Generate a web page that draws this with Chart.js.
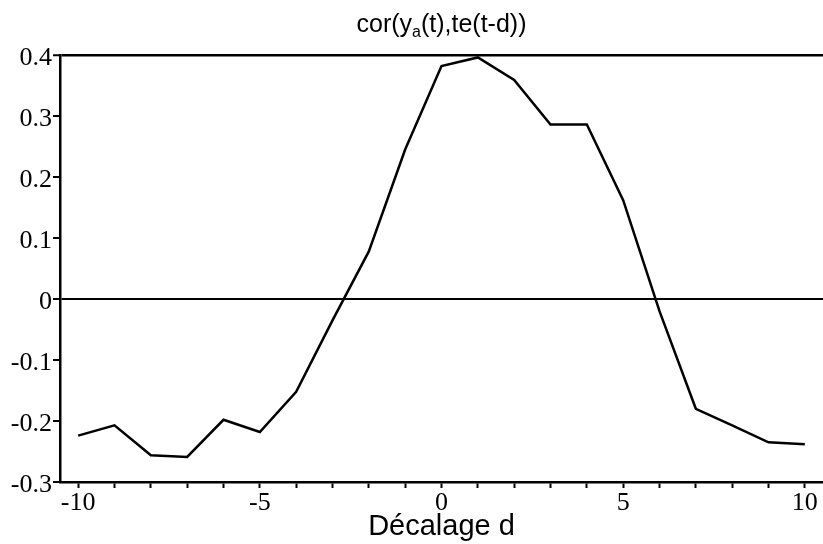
<!DOCTYPE html>
<html>
<head>
<meta charset="utf-8">
<script src="https://cdn.jsdelivr.net/npm/chart.js@4"></script>
<style>
    body { margin: 0; background: #fff; }
    #wrap { width: 823px; height: 544px; }
</style>
</head>
<body>
<div id="wrap"><canvas id="corr_chart" width="823" height="544"></canvas></div>
<script>
// lag d and correlation values
const lags = [-10, -9, -8, -7, -6, -5, -4, -3, -2, -1, 0, 1, 2, 3, 4, 5, 6, 7, 8, 9, 10];
const corrValues = [-0.224, -0.207, -0.256, -0.259, -0.198, -0.218, -0.152, -0.035, 0.078, 0.245,
    0.382, 0.396, 0.359, 0.286, 0.286, 0.162, -0.02, -0.18, -0.207, -0.235, -0.238];
const xLabelTicks = [-10, -5, 0, 5, 10];
const titleParts = ["cor(y", "a", "(t),te(t-d))"];
const xTitle = "Décalage d";

const points = lags.map((d, i) => ({ x: d, y: corrValues[i] }));

// title with a subscript, drawn over the chart area centre
const titlePlugin = {
    id: 'subTitle',
    afterDraw(chart) {
        const c = chart.ctx;
        const area = chart.chartArea;
        const mainFont = '25px "Liberation Sans", Arial, sans-serif';
        const subFont = '16px "Liberation Sans", Arial, sans-serif';
        c.save();
        c.fillStyle = '#000';
        c.textBaseline = 'alphabetic';
        c.textAlign = 'left';
        c.font = mainFont;
        const w0 = c.measureText(titleParts[0]).width;
        const w2 = c.measureText(titleParts[2]).width;
        c.font = subFont;
        const w1 = c.measureText(titleParts[1]).width;
        let x = (area.left + area.right) / 2 - (w0 + w1 + w2) / 2;
        const base = 32;
        c.font = mainFont;
        c.fillText(titleParts[0], x, base);
        x += w0;
        c.font = subFont;
        c.fillText(titleParts[1], x, base + 5);
        x += w1;
        c.font = mainFont;
        c.fillText(titleParts[2], x, base);
        c.restore();
    }
};

const ctx = document.getElementById("corr_chart").getContext("2d");
new Chart(ctx, {
    type: 'line',
    data: {
        datasets: [{
            data: points,
            borderColor: '#000',
            borderWidth: 2.5,
            pointRadius: 0,
            tension: 0,
            fill: false,
        }]
    },
    options: {
        responsive: false,
        animation: false,
        layout: { padding: { top: 55, right: 0, left: 0, bottom: 0 } },
        plugins: {
            legend: { display: false },
            tooltip: { enabled: false },
        },
        scales: {
            x: {
                type: 'linear',
                min: -10.5,
                max: 10.5,
                afterFit: (scale) => { scale.height = 62; },
                afterBuildTicks: (scale) => { scale.ticks = lags.map(v => ({ value: v })); },
                ticks: {
                    autoSkip: false,
                    maxRotation: 0,
                    padding: 0,
                    color: '#000',
                    font: { family: '"Liberation Serif", "Times New Roman", serif', size: 26 },
                    callback: (v) => xLabelTicks.includes(v) ? String(v) : '',
                },
                grid: {
                    drawOnChartArea: false,
                    tickLength: 6,
                    tickColor: '#000',
                    tickWidth: 2,
                },
                border: { display: true, color: '#000', width: 2.5 },
                title: {
                    display: true,
                    text: xTitle,
                    color: '#000',
                    font: { family: '"Liberation Sans", Arial, sans-serif', size: 29 },
                    padding: { top: 0, bottom: 0 },
                },
            },
            y: {
                min: -0.3,
                max: 0.4,
                afterFit: (scale) => { scale.width = 60; },
                ticks: {
                    stepSize: 0.1,
                    padding: 1,
                    labelOffset: 3,
                    color: '#000',
                    font: { family: '"Liberation Serif", "Times New Roman", serif', size: 26 },
                    callback: (v) => String(+v.toFixed(1)),
                },
                grid: {
                    drawOnChartArea: true,
                    color: (c) => {
                        const v = c.tick ? Math.round(c.tick.value * 10) : null;
                        return (v === 0 || v === 4) ? '#000' : 'rgba(0,0,0,0)';
                    },
                    lineWidth: (c) => (c.tick && Math.round(c.tick.value * 10) === 4) ? 2.5 : 2,
                    tickLength: 7,
                    tickColor: '#000',
                    tickWidth: 2,
                },
                border: { display: true, color: '#000', width: 2.5 },
            }
        }
    },
    plugins: [titlePlugin]
});
</script>
</body>
</html>
